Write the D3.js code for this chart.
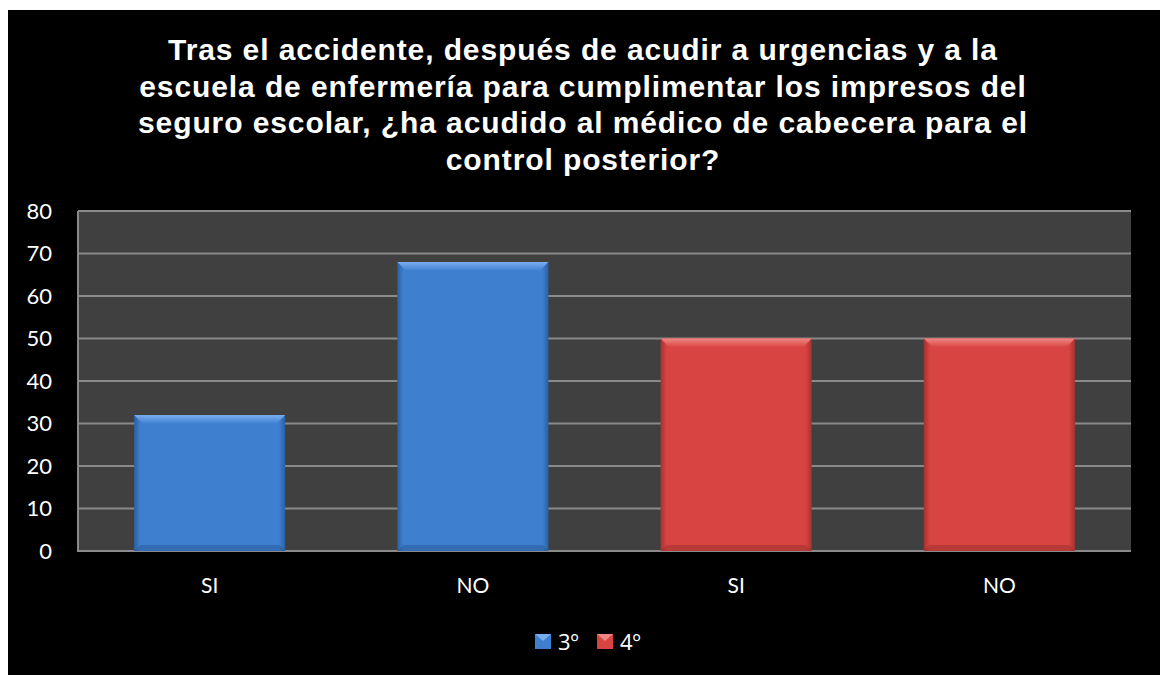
<!DOCTYPE html>
<html><head><meta charset="utf-8">
<script src="https://cdn.jsdelivr.net/npm/d3@7"></script>
<style>html,body{margin:0;padding:0;background:#fff;}svg{display:block;}</style>
</head><body>
<script>
const titleLines = [
  "Tras el accidente, después de acudir a urgencias y a la",
  "escuela de enfermería para cumplimentar los impresos del",
  "seguro escolar, ¿ha acudido al médico de cabecera para el",
  "control posterior?"
];
const categories = ["SI", "NO", "SI", "NO"];
const seriesNames = ["3º", "4º"];
const series3 = [32, 68, null, null];
const series4 = [null, null, 50, 50];
const yTicks = [0, 10, 20, 30, 40, 50, 60, 70, 80];
const seriesColors = ["#3f7fd0", "#d84441"];
const seriesLight = ["#79adef", "#f08682"];
const seriesDark = ["#2c5f9f", "#a53230"];

const W = 1163, H = 675;
const svg = d3.select("body").append("svg").attr("width", W).attr("height", H);
svg.append("rect").attr("x", 8).attr("y", 10).attr("width", 1152).attr("height", 665).attr("fill", "#000");

const plot = {l: 78, t: 211, r: 1131, b: 551};
const x = d3.scaleBand().domain(d3.range(categories.length)).range([plot.l, plot.r]).paddingInner(0.426).paddingOuter(0.213);
const y = d3.scaleLinear().domain([0, 80]).range([plot.b, plot.t]);

svg.append("rect").attr("x", plot.l).attr("y", plot.t).attr("width", plot.r - plot.l).attr("height", plot.b - plot.t).attr("fill", "#404040");

svg.append("g").selectAll("line").data(yTicks.filter(d => d > 0)).join("line")
  .attr("x1", plot.l).attr("x2", plot.r).attr("y1", d => y(d)).attr("y2", d => y(d))
  .attr("stroke", "#8a8a8a").attr("stroke-width", 2);
svg.append("line").attr("x1", plot.l).attr("x2", plot.l).attr("y1", plot.t).attr("y2", plot.b).attr("stroke", "#8a8a8a").attr("stroke-width", 2);
svg.append("line").attr("x1", plot.l - 1).attr("x2", plot.r).attr("y1", plot.b).attr("y2", plot.b).attr("stroke", "#8a8a8a").attr("stroke-width", 2);

const defs = svg.append("defs");
seriesColors.forEach((c, i) => {
  const g = defs.append("linearGradient").attr("id", "hg" + i).attr("x1", 0).attr("x2", 1).attr("y1", 0).attr("y2", 0);
  g.append("stop").attr("offset", 0).attr("stop-color", seriesDark[i]);
  g.append("stop").attr("offset", 0.04).attr("stop-color", c);
  g.append("stop").attr("offset", 0.96).attr("stop-color", c);
  g.append("stop").attr("offset", 1).attr("stop-color", seriesDark[i]);
  const v = defs.append("linearGradient").attr("id", "vg" + i).attr("x1", 0).attr("x2", 0).attr("y1", 0).attr("y2", 1);
  v.append("stop").attr("offset", 0).attr("stop-color", seriesLight[i]);
  v.append("stop").attr("offset", 1).attr("stop-color", c);
});

const allSeries = [series3, series4];
const bev = 9;
allSeries.forEach((vals, si) => {
  const data = vals.map((v, i) => ({i, v})).filter(d => d.v != null);
  const g = svg.append("g");
  g.selectAll("rect.bar").data(data).join("rect").attr("class", "bar")
    .attr("x", d => x(d.i)).attr("y", d => y(d.v))
    .attr("width", x.bandwidth()).attr("height", d => y(0) - y(d.v))
    .attr("fill", `url(#hg${si})`);
  g.selectAll("path.top").data(data).join("path").attr("class", "top")
    .attr("d", d => {
      const x0 = x(d.i), x1 = x0 + x.bandwidth(), y0 = y(d.v);
      return `M${x0},${y0}L${x1},${y0}L${x1 - bev},${y0 + bev}L${x0 + bev},${y0 + bev}Z`;
    })
    .attr("fill", `url(#vg${si})`);
  g.selectAll("path.bot").data(data).join("path").attr("class", "bot")
    .attr("d", d => {
      const x0 = x(d.i), x1 = x0 + x.bandwidth(), y0 = y(0);
      return `M${x0},${y0}L${x1},${y0}L${x1 - 6},${y0 - 6}L${x0 + 6},${y0 - 6}Z`;
    })
    .attr("fill", seriesDark[si]).attr("opacity", 0.6);
});

svg.append("g").selectAll("text").data(yTicks).join("text")
  .attr("x", 52).attr("y", d => y(d)).attr("dy", "0.35em")
  .attr("text-anchor", "end").attr("fill", "#fff")
  .attr("font-family", "Lato, 'Open Sans', sans-serif").attr("font-size", 22)
  .text(d => d);

svg.append("g").selectAll("text").data(categories).join("text")
  .attr("x", (d, i) => x(i) + x.bandwidth() / 2).attr("y", 593)
  .attr("text-anchor", "middle").attr("fill", "#fff")
  .attr("font-family", "Lato, 'Open Sans', sans-serif").attr("font-size", 21)
  .text(d => d);

svg.append("g").selectAll("text").data(titleLines).join("text")
  .attr("x", 583).attr("y", (d, i) => 60 + i * 36.5)
  .attr("text-anchor", "middle").attr("fill", "#fff")
  .attr("font-family", "'Liberation Sans', Arial, sans-serif").attr("font-weight", "bold").attr("font-size", 30)
  .attr("letter-spacing", "0.9px")
  .text(d => d);

const legX = [535, 597];
const leg = svg.append("g").selectAll("g").data(seriesNames).join("g")
  .attr("transform", (d, i) => `translate(${legX[i]},634)`);
leg.append("rect").attr("width", 16).attr("height", 15).attr("fill", (d, i) => seriesColors[i]);
leg.append("path").attr("d", "M0,0L16,0L8,7Z").attr("fill", (d, i) => seriesLight[i]);
leg.append("text").attr("x", 23).attr("y", 16).attr("fill", "#fff")
  .attr("font-family", "'Open Sans', Lato, sans-serif").attr("font-size", 22)
  .text(d => d);
</script>
</body></html>
